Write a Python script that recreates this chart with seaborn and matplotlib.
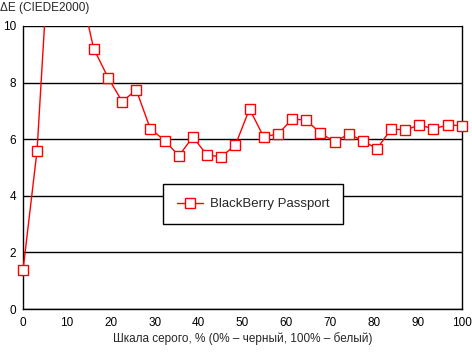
import numpy as np
import pandas as pd
import matplotlib
matplotlib.use("Agg")
import matplotlib.pyplot as plt
import seaborn as sns

# данные: шкала серого (%) и ΔE
gray_pct = [0, 3.2, 6.5, 9.7, 12.9, 16.1, 19.4, 22.6, 25.8, 29.0, 32.3, 35.5,
            38.7, 41.9, 45.2, 48.4, 51.6, 54.8, 58.1, 61.3, 64.5, 67.7, 71.0,
            74.2, 77.4, 80.6, 83.9, 87.1, 90.3, 93.5, 96.8, 100]
delta_e = [1.37, 5.59, 14.2, 13.5, 11.4, 9.20, 8.17, 7.33, 7.74, 6.37, 5.95, 5.41,
           6.08, 5.44, 5.38, 5.80, 7.07, 6.09, 6.18, 6.71, 6.68, 6.22, 5.91,
           6.18, 5.95, 5.66, 6.36, 6.33, 6.50, 6.37, 6.50, 6.48]
series_name = "BlackBerry Passport"

df = pd.DataFrame({"x": gray_pct, "y": delta_e, "s": series_name})
df_in = df[df["y"] <= 10]

sns.set_style("white")
plt.rcParams["font.family"] = ["Liberation Sans", "DejaVu Sans"]

fig = plt.figure(figsize=(4.72, 3.52), dpi=100)
ax = fig.add_axes([23 / 472, 43 / 352, 439 / 472, 283 / 352])

# линия (обрезается по осям)
sns.lineplot(data=df, x="x", y="y", hue="s", palette=["#ff0000"], ax=ax,
             marker="s", markersize=7.5, markerfacecolor="white",
             markeredgecolor="#ff0000", markeredgewidth=1.0, linewidth=1.0,
             markevery=[], zorder=3, legend=False)
# маркеры (не обрезаются на краях)
sns.lineplot(data=df_in, x="x", y="y", hue="s", palette=["#ff0000"], ax=ax,
             marker="s", markersize=7.5, markerfacecolor="white",
             markeredgecolor="#ff0000", markeredgewidth=1.0, linestyle="none",
             zorder=4, clip_on=False, legend=False)

ax.set_xlim(0, 100)
ax.set_ylim(0, 10)
ax.set_xticks(range(0, 101, 10))
ax.set_yticks(range(0, 11, 2))
ax.yaxis.grid(True, color="black", linewidth=1.0)
ax.set_axisbelow(True)
for side in ["left", "bottom", "right"]:
    ax.spines[side].set_color("black")
    ax.spines[side].set_linewidth(1.0)
ax.spines["top"].set_visible(False)
ax.tick_params(axis="both", direction="out", length=4, width=1, colors="black",
               labelsize=8.5, pad=2)
ax.tick_params(axis="y", pad=1)

ax.set_xlabel("Шкала серого, % (0% – черный, 100% – белый)", fontsize=8.5, labelpad=2)
ax.set_ylabel("")
fig.text(0 / 472, 1 - 8 / 352, "ΔE (CIEDE2000)", fontsize=8.5, va="center", ha="left")

handle = plt.Line2D([], [], color="#ff0000", linewidth=1.0, marker="s",
                    markersize=6.5, markerfacecolor="white",
                    markeredgecolor="#ff0000")
leg = ax.legend([handle], [series_name], loc="center",
                bbox_to_anchor=(0.524, 0.371), frameon=True,
                fancybox=False, fontsize=9.5, handlelength=2.0,
                borderpad=1.05, borderaxespad=0, handletextpad=0.5)
leg.get_frame().set_edgecolor("black")
leg.get_frame().set_linewidth(1.0)
leg.get_frame().set_facecolor("white")
leg.get_frame().set_alpha(1)

fig.savefig("out.png", dpi=100, facecolor="white")
